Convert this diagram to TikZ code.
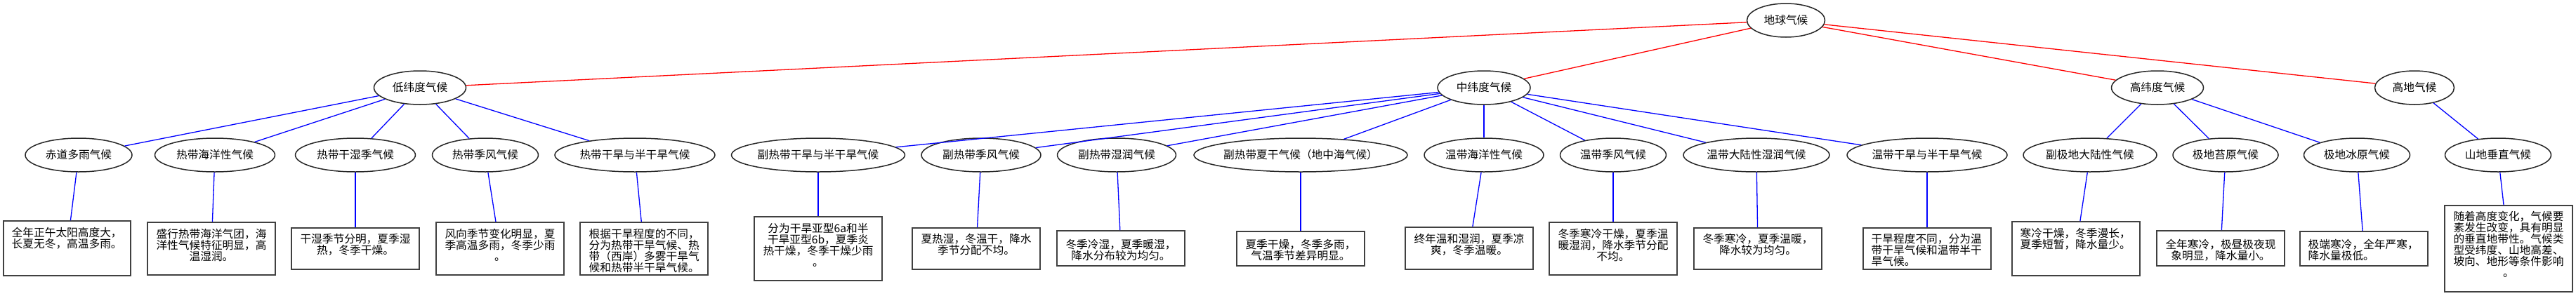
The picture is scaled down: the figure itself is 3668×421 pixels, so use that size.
\documentclass[tikz,border=0pt]{standalone}
\usepackage{fontspec}
\setmainfont{Noto Sans CJK SC}
\usetikzlibrary{shapes.geometric}
\newcommand\nfont{\fontsize{15.7}{16}\selectfont}
\begin{document}
\begin{tikzpicture}[x=1pt,y=-1pt,
  ell/.style={draw=black!85, line width=1.5pt, ellipse, inner sep=0pt, minimum height=48pt, font=\nfont},
  boxx/.style={draw=black!75, line width=1.6pt, rectangle, inner sep=0pt, minimum width=182pt},
  txt/.style={inner sep=0pt, anchor=base, font=\nfont, align=center},
  txtl/.style={inner sep=0pt, anchor=base west, font=\nfont, align=left},
  redge/.style={draw=red, line width=1.3pt},
  bedge/.style={draw=blue, line width=1.3pt}]
\useasboundingbox (0,0) rectangle (3668,421);
% level 0 and 1
\node[ell, minimum width=111pt] (root) at (2543,29) {地球气候};
\node[ell, minimum width=131pt] (low) at (598,125) {低纬度气候};
\node[ell, minimum width=132pt] (mid) at (2113,125) {中纬度气候};
\node[ell, minimum width=131pt] (high) at (3072,125) {高纬度气候};
\node[ell, minimum width=113pt] (alt) at (3438,125) {高地气候};
% level 2
\node[ell, minimum width=152pt] (c1) at (112,221) {赤道多雨气候};
\node[ell, minimum width=171pt] (c2) at (306,221) {热带海洋性气候};
\node[ell, minimum width=171pt] (c3) at (506,221) {热带干湿季气候};
\node[ell, minimum width=151pt] (c4) at (691,221) {热带季风气候};
\node[ell, minimum width=228pt] (c5) at (904,221) {热带干旱与半干旱气候};
\node[ell, minimum width=247pt] (c6) at (1165,221) {副热带干旱与半干旱气候};
\node[ell, minimum width=170pt] (c7) at (1397,221) {副热带季风气候};
\node[ell, minimum width=169pt] (c8) at (1590,221) {副热带湿润气候};
\node[ell, minimum width=304pt] (c9) at (1852,221) {\makebox[0pt]{副热带夏干气候（地中海气候）}};
\node[ell, minimum width=170pt] (c10) at (2113,221) {温带海洋性气候};
\node[ell, minimum width=151pt] (c11) at (2297,221) {温带季风气候};
\node[ell, minimum width=208pt] (c12) at (2501,221) {温带大陆性湿润气候};
\node[ell, minimum width=228pt] (c13) at (2744,221) {温带干旱与半干旱气候};
\node[ell, minimum width=190pt] (c14) at (2976,221) {副极地大陆性气候};
\node[ell, minimum width=150pt] (c15) at (3169,221) {极地苔原气候};
\node[ell, minimum width=151pt] (c16) at (3356,221) {极地冰原气候};
\node[ell, minimum width=151pt] (c17) at (3557,221) {山地垂直气候};
% boxes
\node[boxx, minimum width=181pt, minimum height=78pt] (b1) at (95.5,354) {};
\node[boxx, minimum height=75pt] (b2) at (301,354.5) {};
\node[boxx, minimum height=59pt] (b3) at (506,354.5) {};
\node[boxx, minimum height=75pt] (b4) at (712,354.5) {};
\node[boxx, minimum height=75pt] (b5) at (917,354.5) {};
\node[boxx, minimum height=91pt] (b6) at (1165,354.5) {};
\node[boxx, minimum height=59pt] (b7) at (1390,354.5) {};
\node[boxx, minimum height=50pt] (b8) at (1596,354) {};
\node[boxx, minimum height=49pt] (b9) at (1852,354.5) {};
\node[boxx, minimum height=60pt] (b10) at (2092,354) {};
\node[boxx, minimum height=75pt] (b11) at (2297,354.5) {};
\node[boxx, minimum height=59pt] (b12) at (2503,354.5) {};
\node[boxx, minimum height=59pt] (b13) at (2744,354.5) {};
\node[boxx, minimum height=77pt] (b14) at (2956,354.5) {};
\node[boxx, minimum height=50pt] (b15) at (3162,354) {};
\node[boxx, minimum height=49pt] (b16) at (3366,354.5) {};
\node[boxx, minimum height=123pt] (b17) at (3572,354.5) {};
% box texts (base = baseline of the last line)
\node[txtl] (t1) at (16.5,353.5) {全年正午太阳高度大，\\长夏无冬，高温多雨。};
\node[txt] (t2) at (301,371) {盛行热带海洋气团，海\\洋性气候特征明显，高\\温湿润。};
\node[txt] (t3) at (506,362) {干湿季节分明，夏季湿\\热，冬季干燥。};
\node[txt] (t4) at (712,371) {风向季节变化明显，夏\\季高温多雨，冬季少雨\\。};
\node[txtl] (t5) at (838.5,387) {根据干旱程度的不同，\\分为热带干旱气候、热\\带（西岸）多雾干旱气\\候和热带半干旱气候。};
\node[txt] (t6) at (1165,379) {分为干旱亚型6a和半\\干旱亚型6b，夏季炎\\热干燥，冬季干燥少雨\\。};
\node[txt] (t7) at (1390,362) {夏热湿，冬温干，降水\\季节分配不均。};
\node[txt] (t8) at (1596,370) {冬季冷湿，夏季暖湿，\\降水分布较为均匀。};
\node[txt] (t9) at (1852,370) {夏季干燥，冬季多雨，\\气温季节差异明显。};
\node[txt] (t10) at (2092,362) {终年温和湿润，夏季凉\\爽，冬季温暖。};
\node[txt] (t11) at (2297,371) {冬季寒冷干燥，夏季温\\暖湿润，降水季节分配\\不均。};
\node[txt] (t12) at (2503,362) {冬季寒冷，夏季温暖，\\降水较为均匀。};
\node[txtl] (t13) at (2664.5,378) {干旱程度不同，分为温\\带干旱气候和温带半干\\旱气候。};
\node[txtl] (t14) at (2876.5,354) {寒冷干燥，冬季漫长，\\夏季短暂，降水量少。};
\node[txt] (t15) at (3162,370) {全年寒冷，极昼极夜现\\象明显，降水量小。};
\node[txtl] (t16) at (3286.5,370) {极端寒冷，全年严寒，\\降水量极低。};
\node[txt] (t17) at (3572,394) {随着高度变化，气候要\\素发生改变，具有明显\\的垂直地带性。气候类\\型受纬度、山地高差、\\坡向、地形等条件影响\\。};
% edges
\draw[redge] (root) -- (low);
\draw[redge] (root) -- (mid);
\draw[redge] (root) -- (high);
\draw[redge] (root) -- (alt);
\foreach \c in {c1,c2,c3,c4,c5} \draw[bedge] (low) -- (\c);
\foreach \c in {c6,c7,c8,c9,c10,c11,c12,c13} \draw[bedge] (mid) -- (\c);
\foreach \c in {c14,c15,c16} \draw[bedge] (high) -- (\c);
\draw[bedge] (alt) -- (c17);
\foreach \i in {1,...,17} \draw[bedge] (c\i) -- (b\i);
\end{tikzpicture}
\end{document}
